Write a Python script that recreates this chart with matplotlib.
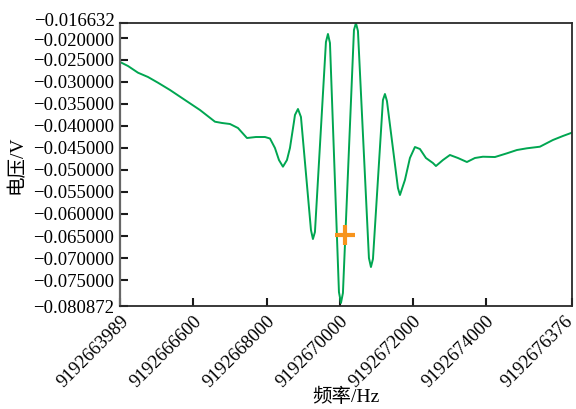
import matplotlib
matplotlib.use("Agg")
import matplotlib.pyplot as plt
import matplotlib.transforms as mtransforms

plt.rcParams['font.family'] = ['Liberation Serif', 'Noto Sans CJK SC', 'DejaVu Sans']
plt.rcParams['axes.unicode_minus'] = True

# frequency (Hz) and voltage (V)
freq = [
    9192663989, 9192664208, 9192664482, 9192664755, 9192665029, 9192665358,
    9192665768, 9192666179, 9192666589, 9192666781, 9192667000, 9192667219,
    9192667465, 9192667711, 9192667958, 9192668095, 9192668231, 9192668341,
    9192668450, 9192668560, 9192668642, 9192668751, 9192668779, 9192668861,
    9192668943, 9192669217, 9192669271, 9192669326, 9192669627, 9192669682,
    9192669737, 9192669983, 9192670038, 9192670092, 9192670394, 9192670448,
    9192670503, 9192670804, 9192670859, 9192670914, 9192671187, 9192671242,
    9192671297, 9192671598, 9192671653, 9192671707, 9192671789, 9192671926,
    9192672063, 9192672200, 9192672364, 9192672556, 9192672638, 9192672830,
    9192673021, 9192673240, 9192673486, 9192673705, 9192673924, 9192674253,
    9192674581, 9192674855, 9192675129, 9192675484, 9192675840, 9192676114,
    9192676360,
]
volt = [
    -0.02554, -0.02645, -0.02797, -0.02894, -0.03024, -0.03189,
    -0.03416, -0.03643, -0.03908, -0.03937, -0.03960, -0.04051,
    -0.04278, -0.04255, -0.04255, -0.04289, -0.04504, -0.04777,
    -0.04928, -0.04777, -0.04504, -0.03915, -0.03756, -0.03620,
    -0.03801, -0.06364, -0.06568, -0.06409, -0.02101, -0.01919,
    -0.02124, -0.07770, -0.08019, -0.07792, -0.01829, -0.01670,
    -0.01851, -0.06999, -0.07203, -0.07021, -0.03416, -0.03280,
    -0.03439, -0.05411, -0.05570, -0.05434, -0.05230, -0.04731,
    -0.04482, -0.04527, -0.04731, -0.04845, -0.04913, -0.04777,
    -0.04663, -0.04731, -0.04822, -0.04731, -0.04702, -0.04709,
    -0.04625, -0.04550, -0.04511, -0.04475, -0.04323, -0.04232,
    -0.04157,
]

marker_freq = [9192670147]
marker_volt = [-0.06477]

xtick_pos = [9192663989, 9192666000, 9192668000, 9192670000, 9192672000,
             9192674000, 9192676376]
xtick_labels = ['9192663989', '9192666600', '9192668000', '9192670000',
                '9192672000', '9192674000', '9192676376']
ytick_pos = [-0.016632, -0.020, -0.025, -0.030, -0.035, -0.040, -0.045,
             -0.050, -0.055, -0.060, -0.065, -0.070, -0.075, -0.080872]
ytick_labels = ['−0.016632', '−0.020000', '−0.025000', '−0.030000',
                '−0.035000', '−0.040000', '−0.045000', '−0.050000',
                '−0.055000', '−0.060000', '−0.065000', '−0.070000',
                '−0.075000', '−0.080872']

fig = plt.figure(figsize=(5.76, 4.09), dpi=100)
ax = fig.add_axes([0.2083, 0.2518, 0.9939 - 0.2083, 0.9445 - 0.2518])

ax.plot(freq, volt, color='#00A651', lw=1.4, solid_joinstyle='round')
ax.plot(marker_freq, marker_volt, marker='+', color='#F7941D',
        markersize=14, markeredgewidth=3, linestyle='none')

ax.set_xlim(xtick_pos[0], xtick_pos[-1])
ax.set_ylim(ytick_pos[-1], ytick_pos[0])

ax.set_xticks(xtick_pos)
ax.set_xticklabels(xtick_labels, rotation=45, ha='right', va='top',
                   rotation_mode='anchor', fontsize=13.5)
ax.set_yticks(ytick_pos)
ax.set_yticklabels(ytick_labels, fontsize=13.5)

ax.tick_params(axis='both', direction='in', length=6, width=1.5,
               color='#1a1a1a', pad=4)
ax.tick_params(axis='x', pad=5)


def nudge(label, dx_px, dy_px):
    label.set_transform(label.get_transform() +
                        mtransforms.ScaledTranslation(dx_px / 100, dy_px / 100,
                                                      fig.dpi_scale_trans))


# last x label sits slightly left so it stays inside the figure
nudge(ax.get_xticklabels()[-1], -8, 0)
# the two crowded top y labels are spread apart as in the reference
ylabs = ax.get_yticklabels()
nudge(ylabs[0], 0, 3)
nudge(ylabs[1], 0, -2)

for side in ['top', 'right', 'bottom']:
    ax.spines[side].set_color('#2a2a2a')
    ax.spines[side].set_linewidth(1.3)
ax.spines['left'].set_color('#666666')
ax.spines['left'].set_linewidth(1.6)

fig.text(346 / 576, 1 - 397 / 409, '频率/Hz', fontsize=14,
         ha='center', va='center')
fig.text(16 / 576, 1 - 165 / 409, '电压/V', fontsize=14, rotation=90,
         ha='center', va='center')

fig.savefig('out.png', dpi=100)
